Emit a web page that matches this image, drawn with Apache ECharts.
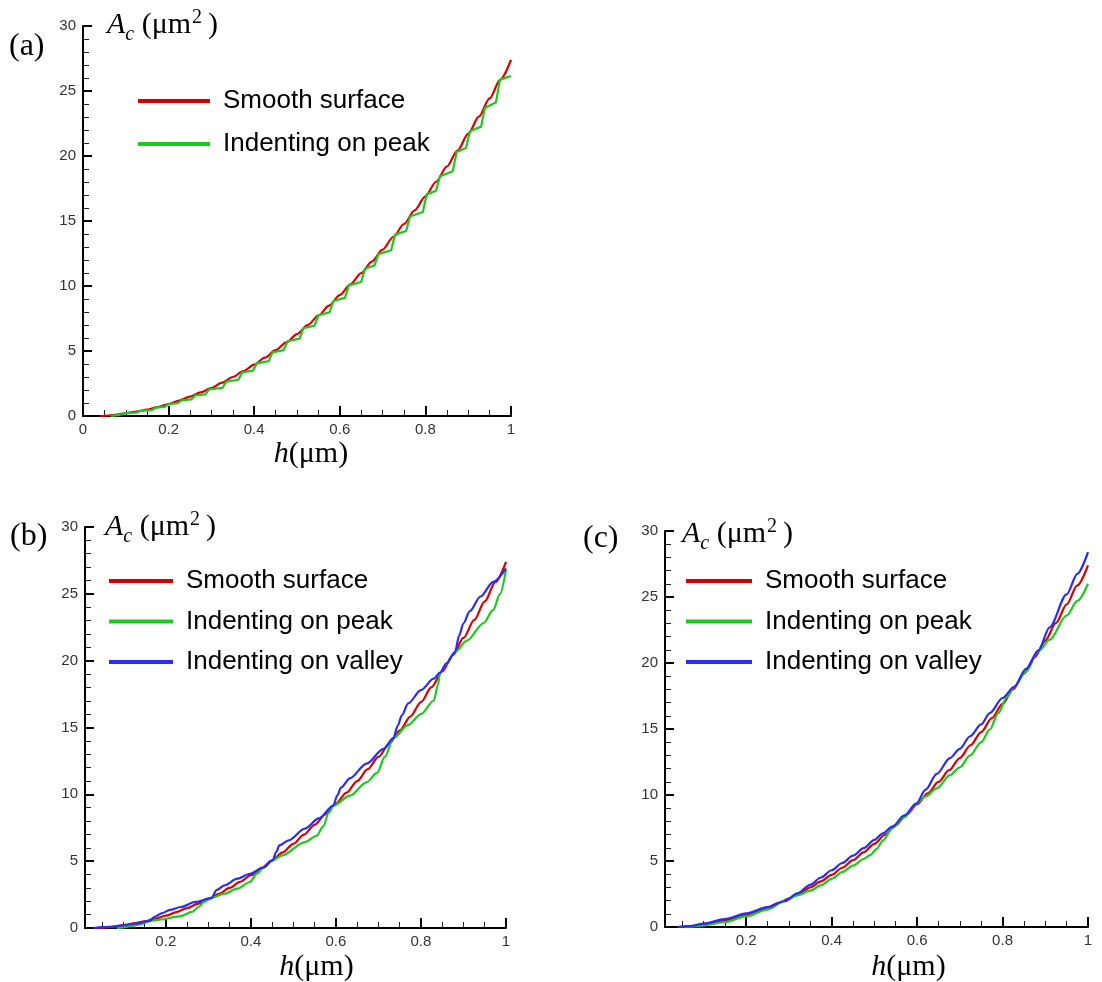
<!DOCTYPE html>
<html><head><meta charset="utf-8">
<script src="https://cdn.jsdelivr.net/npm/echarts@6/dist/echarts.min.js"></script>
<style>html,body{margin:0;padding:0;background:#fff}#c{width:1102px;height:982px}</style>
</head><body><div id="c"></div>
<script>
// ---- data ----
const seriesNames = ['Smooth surface', 'Indenting on peak', 'Indenting on valley'];
const panelLabels = ['(a)', '(b)', '(c)'];
const xMajorA = [0, 0.2, 0.4, 0.6, 0.8, 1];
const xMajorBC = [0.2, 0.4, 0.6, 0.8, 1];
const xMinor = [0.05, 0.1, 0.15, 0.25, 0.3, 0.35, 0.45, 0.5, 0.55, 0.65, 0.7, 0.75, 0.85, 0.9, 0.95];

// smooth surface (same in all panels)
const smoothH = [0.04,0.06,0.08,0.10,0.125,0.15,0.175,0.20,0.225,0.25,0.275,0.30,0.325,0.35,0.375,0.40,0.425,0.45,0.475,0.50,0.525,0.55,0.575,0.60,0.625,0.65,0.675,0.70,0.725,0.75,0.775,0.80,0.825,0.85,0.875,0.90,0.925,0.95,0.975,1.0];
const smoothA = [0.0,0.04,0.11,0.22,0.34,0.50,0.69,0.92,1.19,1.49,1.81,2.15,2.56,3.00,3.46,3.95,4.49,5.06,5.66,6.30,6.99,7.72,8.49,9.30,10.13,10.99,11.88,12.80,13.77,14.77,15.82,16.90,18.02,19.19,20.42,21.70,23.03,24.43,25.88,27.40];

// panel (a) indenting on peak (staircase)
const peakAH = [0.065,0.085,0.10,0.126,0.135,0.161,0.17,0.191,0.20,0.221,0.23,0.253,0.262,0.286,0.295,0.326,0.335,0.363,0.372,0.397,0.406,0.434,0.443,0.469,0.478,0.506,0.515,0.541,0.55,0.576,0.585,0.612,0.621,0.650,0.659,0.681,0.690,0.720,0.729,0.755,0.764,0.794,0.803,0.825,0.834,0.864,0.873,0.895,0.904,0.930,0.939,0.965,0.974,0.99,1.0];
const peakAV = [0.0,0.08,0.22,0.26,0.40,0.45,0.65,0.70,0.92,0.98,1.2,1.28,1.58,1.67,2.05,2.17,2.65,2.79,3.35,3.49,4.05,4.22,4.9,5.07,5.75,5.95,6.75,6.95,7.75,7.97,8.85,9.09,10.05,10.31,11.35,11.57,12.45,12.75,13.95,14.23,15.35,15.69,17.05,17.33,18.45,18.82,20.3,20.62,21.9,22.26,23.7,24.13,25.85,26.05,26.15];

// panel (b)
const peakBH = [0.085,0.10,0.12,0.14,0.16,0.186,0.232,0.262,0.277,0.29,0.307,0.338,0.368,0.398,0.414,0.429,0.451,0.474,0.527,0.555,0.57,0.583,0.594,0.633,0.672,0.697,0.715,0.735,0.77,0.80,0.83,0.84,0.845,0.86,0.88,0.908,0.947,0.97,0.986,1.0];
const peakBV = [0.0,0.05,0.15,0.27,0.52,0.62,0.87,1.2,1.57,1.95,2.25,2.57,2.94,3.44,4.06,4.51,5.06,5.44,6.43,6.9,7.6,8.6,9.15,9.9,10.9,11.6,12.8,14.2,15.2,16.0,17.0,18.2,19.1,19.75,20.65,21.5,22.8,23.8,25.0,26.8];
const valleyBH = [0.03,0.07,0.10,0.13,0.16,0.175,0.19,0.21,0.235,0.27,0.307,0.32,0.338,0.368,0.398,0.429,0.451,0.46,0.467,0.489,0.527,0.56,0.594,0.603,0.612,0.633,0.672,0.712,0.735,0.745,0.755,0.77,0.80,0.83,0.845,0.86,0.88,0.89,0.90,0.915,0.94,0.97,1.0];
const valleyBV = [0.0,0.08,0.2,0.33,0.52,0.85,1.1,1.35,1.57,1.95,2.25,2.85,3.19,3.69,4.06,4.51,5.06,5.7,6.18,6.56,7.43,8.2,9.15,9.9,10.5,11.2,12.3,13.4,14.2,15.1,15.9,16.8,17.8,18.65,19.1,19.8,20.65,21.9,22.8,23.7,24.8,25.9,26.9];

// panel (c)
const peakCH = [0.055,0.08,0.10,0.15,0.20,0.25,0.289,0.32,0.35,0.375,0.40,0.425,0.45,0.475,0.49,0.505,0.52,0.542,0.57,0.598,0.62,0.646,0.677,0.70,0.724,0.75,0.77,0.79,0.81,0.827,0.855,0.884,0.91,0.95,0.975,1.0];
const peakCV = [0.0,0.05,0.12,0.38,0.8,1.32,1.95,2.4,2.75,3.15,3.65,4.15,4.65,5.15,5.45,5.9,6.55,7.5,8.3,9.35,9.9,10.5,11.5,12.1,13.0,14.0,14.95,16.2,17.4,18.2,19.35,20.9,21.75,23.6,24.7,26.0];
const valleyCH = [0.04,0.07,0.10,0.15,0.20,0.25,0.289,0.32,0.35,0.375,0.40,0.425,0.45,0.475,0.50,0.52,0.542,0.57,0.598,0.62,0.646,0.677,0.70,0.724,0.75,0.77,0.80,0.827,0.855,0.884,0.91,0.95,0.975,1.0];
const valleyCV = [0.0,0.07,0.26,0.6,1.03,1.5,1.95,2.55,3.2,3.75,4.3,4.85,5.4,5.97,6.6,7.1,7.6,8.45,9.35,10.4,11.6,12.8,13.5,14.45,15.35,16.2,17.35,18.2,19.55,20.95,22.7,25.2,26.75,28.4];

// ---- chart ----
const pts = (h, v) => h.map((x, i) => [x, v[i]]);
const COLORS = ['#d40000', '#1ec81e', '#2b2bff'];
const SERIF = '"Liberation Serif", "Times New Roman", serif';
const SANS = '"Liberation Sans", Arial, sans-serif';

const grids = [
  {left: 83, top: 26, width: 428, height: 390},
  {left: 85, top: 527, width: 421, height: 401},
  {left: 665, top: 531, width: 423, height: 396}
];
const xMins = [0, 0.01, 0.01];
const xNamePad = [28, 42, 64];
const xNameGap = [38, 39, 40];
const yNamePad = [24, 20, 17];
const yNameGap = [1, 0, -3];

const xAxes = [], yAxes = [];
grids.forEach((g, i) => {
  const major = i === 0 ? xMajorA : xMajorBC;
  xAxes.push({
    type: 'value', gridIndex: i, min: xMins[i], max: 1, position: 'bottom',
    axisLine: {show: true, onZero: false, lineStyle: {color: '#000', width: 2}},
    axisTick: {show: true, inside: true, length: 10, customValues: major, lineStyle: {color: '#000', width: 2}},
    axisLabel: {show: true, customValues: major, color: '#333', fontSize: 15, fontFamily: SANS, margin: 6},
    splitLine: {show: false},
    name: '{h|h}{n|(μm)}', nameLocation: 'middle', nameGap: xNameGap[i],
    nameTextStyle: {verticalAlign: 'middle', padding: [0, 0, 0, xNamePad[i]],
      rich: {h: {fontFamily: SERIF, fontStyle: 'italic', fontSize: 30, color: '#000'},
             n: {fontFamily: SERIF, fontSize: 30, color: '#000'}}}
  });
  xAxes.push({
    type: 'value', gridIndex: i, min: xMins[i], max: 1, position: 'bottom',
    axisLine: {show: false, onZero: false},
    axisTick: {show: true, inside: true, length: 6, customValues: xMinor, lineStyle: {color: '#222', width: 1}},
    axisLabel: {show: false}, splitLine: {show: false}
  });
  yAxes.push({
    type: 'value', gridIndex: i, min: 0, max: 30, interval: 5,
    axisLine: {show: true, onZero: false, lineStyle: {color: '#000', width: 2}},
    axisTick: {show: true, inside: true, length: 9, lineStyle: {color: '#000', width: 2}},
    minorTick: {show: true, splitNumber: 5, length: 6, lineStyle: {color: '#222', width: 1}},
    axisLabel: {color: '#333', fontSize: 15, fontFamily: SANS, margin: 7},
    splitLine: {show: false},
    name: '{A|A}{c|c}{p| (μm}{s|2}{p|)}', nameLocation: 'end', nameGap: yNameGap[i],
    nameTextStyle: {align: 'left', verticalAlign: 'middle', padding: [0, 0, 0, yNamePad[i]],
      rich: {
        A: {fontFamily: SERIF, fontStyle: 'italic', fontSize: 30, lineHeight: 30, color: '#000'},
        c: {fontFamily: SERIF, fontStyle: 'italic', fontSize: 20, lineHeight: 20, padding: [20, 0, 0, 0], color: '#000'},
        p: {fontFamily: SERIF, fontSize: 30, lineHeight: 30, color: '#000'},
        s: {fontFamily: SERIF, fontSize: 20, lineHeight: 20, padding: [0, 6, 14, 1], color: '#000'}
      }}
  });
});

function line(name, color, data, gi, smooth) {
  return {
    type: 'line', name: name, xAxisIndex: gi * 2, yAxisIndex: gi, data: data,
    showSymbol: false, symbol: 'none', smooth: smooth, smoothMonotone: 'x',
    lineStyle: {color: color, width: 2.2}, itemStyle: {color: color}, z: 3, silent: true
  };
}

const series = [
  line(seriesNames[0], COLORS[0], pts(smoothH, smoothA), 0, 0.3),
  line(seriesNames[1], COLORS[1], pts(peakAH, peakAV), 0, false),
  line(seriesNames[0], COLORS[0], pts(smoothH, smoothA), 1, 0.3),
  line(seriesNames[1], COLORS[1], pts(peakBH, peakBV), 1, 0.3),
  line(seriesNames[2], COLORS[2], pts(valleyBH, valleyBV), 1, 0.3),
  line(seriesNames[0], COLORS[0], pts(smoothH, smoothA), 2, 0.3),
  line(seriesNames[1], COLORS[1], pts(peakCH, peakCV), 2, 0.3),
  line(seriesNames[2], COLORS[2], pts(valleyCH, valleyCV), 2, 0.3)
];

const legendBase = {
  orient: 'vertical', icon: 'rect', itemHeight: 4, padding: 0, selectedMode: false,
  textStyle: {fontSize: 26, fontFamily: SANS, color: '#000', lineHeight: 26, padding: [0, 0, 0, 8]}
};
const legends = [
  Object.assign({}, legendBase, {left: 138, top: 88, itemWidth: 72, itemGap: 17, data: seriesNames.slice(0, 2)}),
  Object.assign({}, legendBase, {left: 109, top: 568, itemWidth: 64, itemGap: 14.5, data: seriesNames}),
  Object.assign({}, legendBase, {left: 686, top: 568, itemWidth: 66, itemGap: 14.5, data: seriesNames})
];

const labelPos = [[9, 31], [10, 521], [583, 523]];
const graphic = panelLabels.map((t, i) => ({
  type: 'text', left: labelPos[i][0], top: labelPos[i][1],
  style: {text: t, fontSize: 32, fontFamily: SERIF, fill: '#000'}
}));

const chart = echarts.init(document.getElementById('c'), null, {renderer: 'canvas'});
chart.setOption({
  animation: false,
  backgroundColor: '#fff',
  grid: grids.map(g => Object.assign({outerBoundsMode: 'none'}, g)),
  xAxis: xAxes,
  yAxis: yAxes,
  legend: legends,
  graphic: graphic,
  series: series
});
</script>
</body></html>
